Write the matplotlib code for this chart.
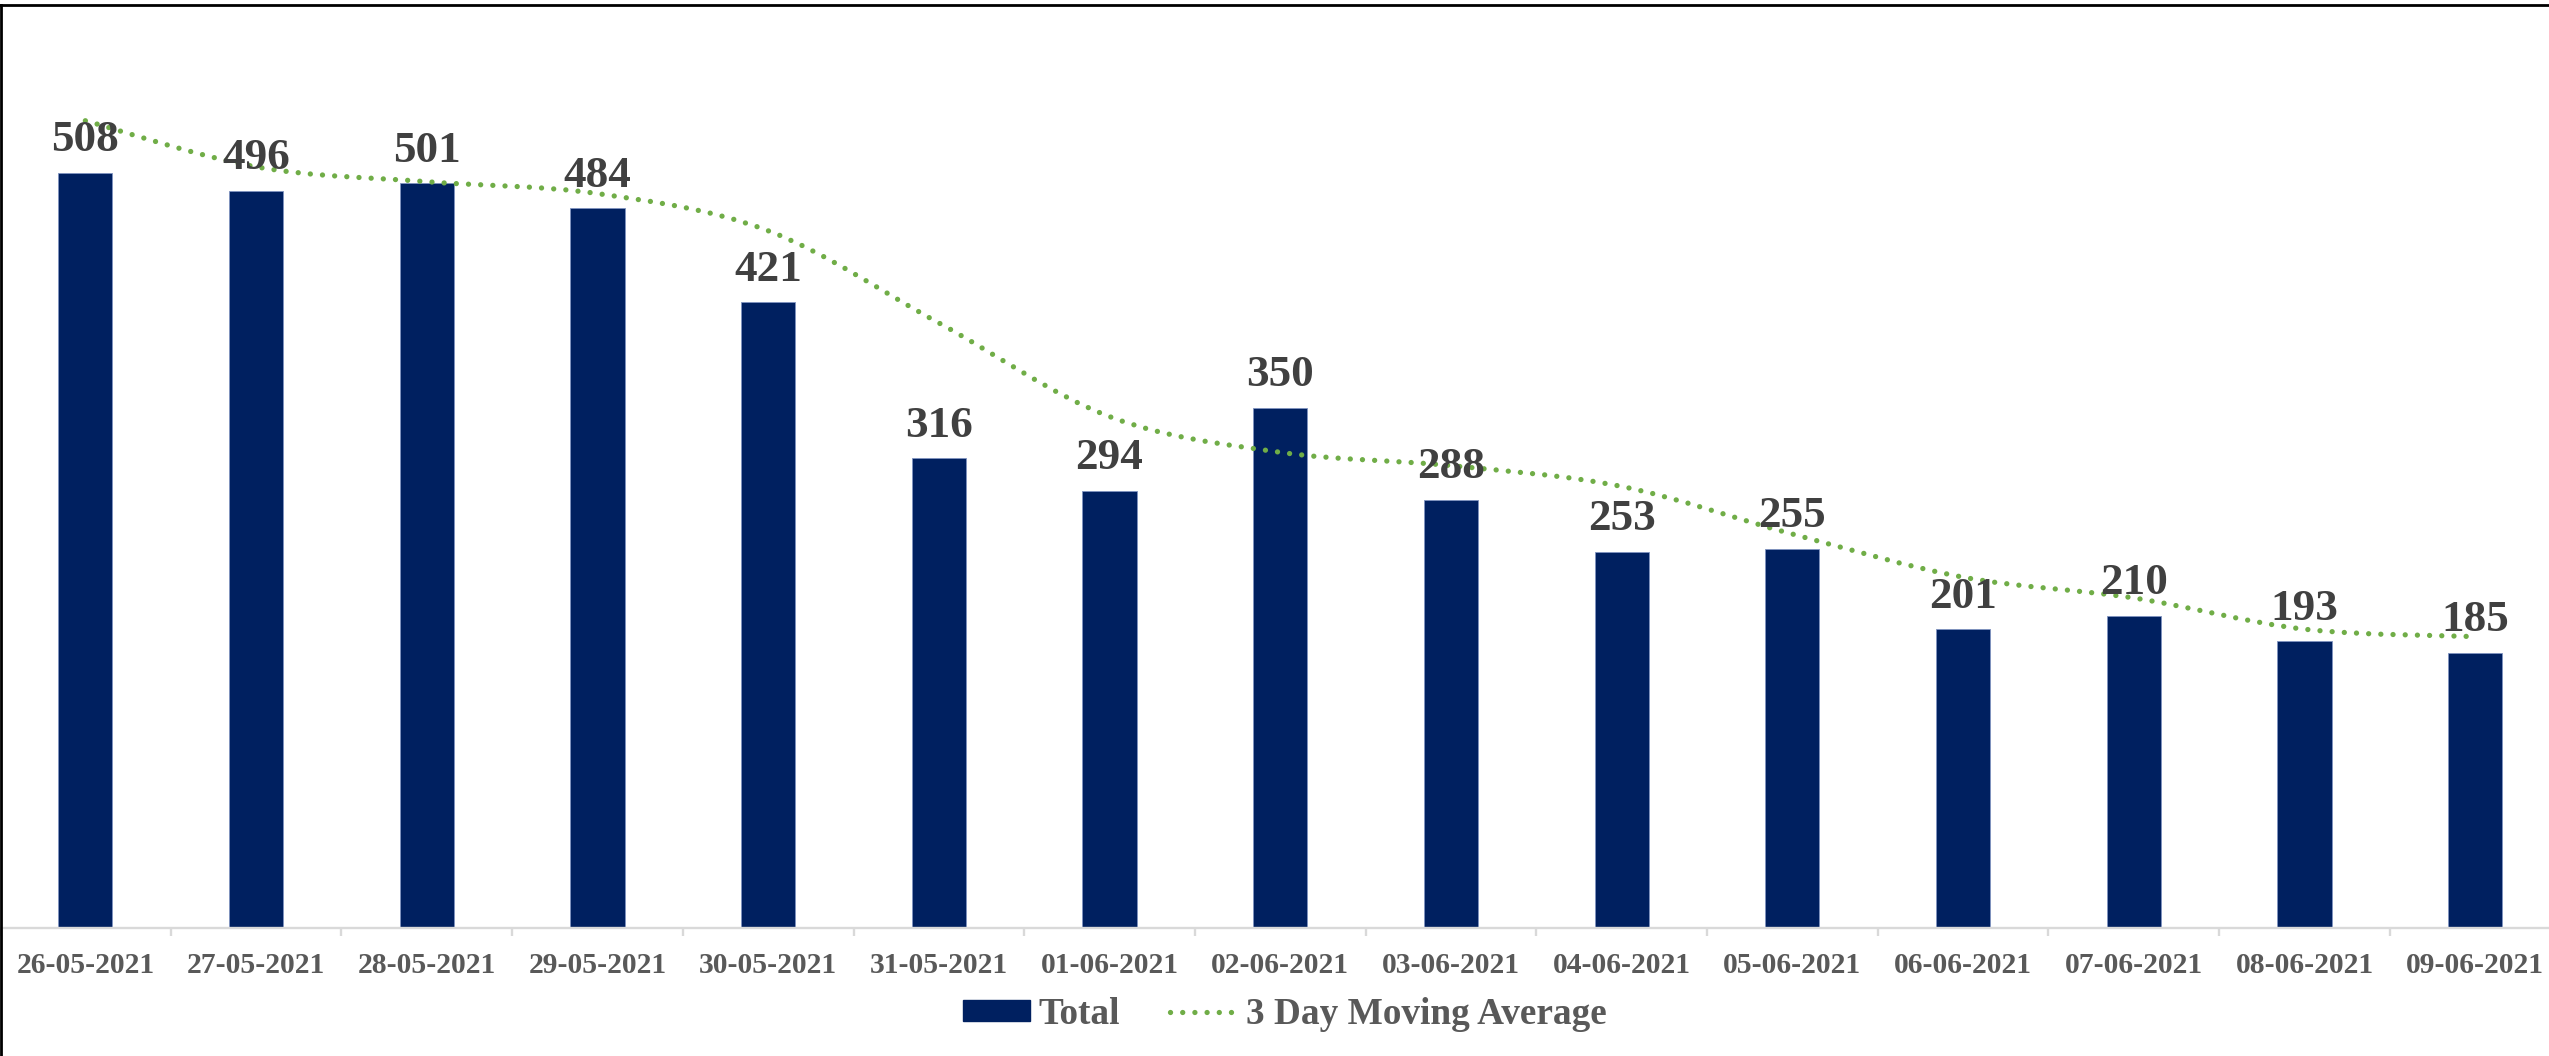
import matplotlib.pyplot as plt
from matplotlib.path import Path
from matplotlib.patches import PathPatch, Patch
from matplotlib.lines import Line2D
import numpy as np

# chart values
dates = ['26-05-2021', '27-05-2021', '28-05-2021', '29-05-2021', '30-05-2021',
         '31-05-2021', '01-06-2021', '02-06-2021', '03-06-2021', '04-06-2021',
         '05-06-2021', '06-06-2021', '07-06-2021', '08-06-2021', '09-06-2021']
totals = [508, 496, 501, 484, 421, 316, 294, 350, 288, 253, 255, 201, 210, 193, 185]
moving_avg = [543, 512, 502, 494, 469, 407, 344, 320, 311, 297, 265, 236, 222, 201, 196]

bar_color = '#002060'
line_color = '#70AD47'
dot_style = (0, (0.01, 2.3))

plt.rcParams['font.family'] = ['Liberation Serif', 'DejaVu Serif']
plt.rcParams['font.weight'] = 'bold'

W, H = 2549, 1056
fig = plt.figure(figsize=(W / 100, H / 100), dpi=100)
ax = fig.add_axes([0, 128 / H, 2560.5 / W, 892 / H])

x = np.arange(len(dates))
ax.bar(x, totals, width=0.317, color=bar_color, edgecolor='#7F93C0',
       linewidth=0.6, zorder=2)

for xi, v in zip(x, totals):
    ax.annotate(str(v), (xi, v), xytext=(0, 15.5), textcoords='offset points',
                ha='center', va='baseline', fontsize=32.5, color='#404040',
                fontweight='bold', zorder=4)

# smoothed moving average line (Excel style smoothing)
pts = np.column_stack([x, moving_avg]).astype(float)
n = len(pts)
verts = [pts[0]]
codes = [Path.MOVETO]
for i in range(n - 1):
    p0 = pts[i - 1] if i > 0 else pts[i]
    p3 = pts[i + 2] if i + 2 < n else pts[i + 1]
    c1 = pts[i] + (pts[i + 1] - p0) / 6
    c2 = pts[i + 1] - (p3 - pts[i]) / 6
    verts += [c1, c2, pts[i + 1]]
    codes += [Path.CURVE4] * 3
ax.add_patch(PathPatch(Path(verts, codes), fill=False, edgecolor=line_color,
                       lw=3.8, linestyle=dot_style, capstyle='round', zorder=3))

ax.set_xlim(-0.5, len(dates) - 0.5)
ax.set_ylim(0, 600)
ax.set_xticks(x)
ax.set_xticklabels(dates)
ax.set_xticks(np.arange(-0.5, len(dates), 1), minor=True)
ax.tick_params(axis='x', which='major', length=0, pad=17, labelsize=21.3,
               labelcolor='#595959')
ax.tick_params(axis='x', which='minor', length=5.8, width=1.7, color='#D9D9D9')
ax.set_yticks([])
for s in ['top', 'right', 'left']:
    ax.spines[s].set_visible(False)
ax.spines['bottom'].set_color('#D9D9D9')
ax.spines['bottom'].set_linewidth(1.7)

handles = [Patch(facecolor=bar_color, edgecolor=bar_color),
           Line2D([], [], color=line_color, lw=3.8, linestyle=dot_style,
                  dash_capstyle='round')]
fig.legend(handles, ['Total', '3 Day Moving Average'], loc='center',
           bbox_to_anchor=(0.504, 42 / H), ncol=2, frameon=False,
           fontsize=26.8, handlelength=1.8, handleheight=0.5,
           handletextpad=0.24, columnspacing=1.34, labelcolor='#595959')

# frame lines at top and left edge
fig.add_artist(Line2D([0, 1], [1 - 5 / H] * 2, transform=fig.transFigure,
                      color='black', lw=2))
fig.add_artist(Line2D([1 / W] * 2, [0, 1 - 5 / H], transform=fig.transFigure,
                      color='black', lw=2))

fig.savefig('out.png', dpi=100)
